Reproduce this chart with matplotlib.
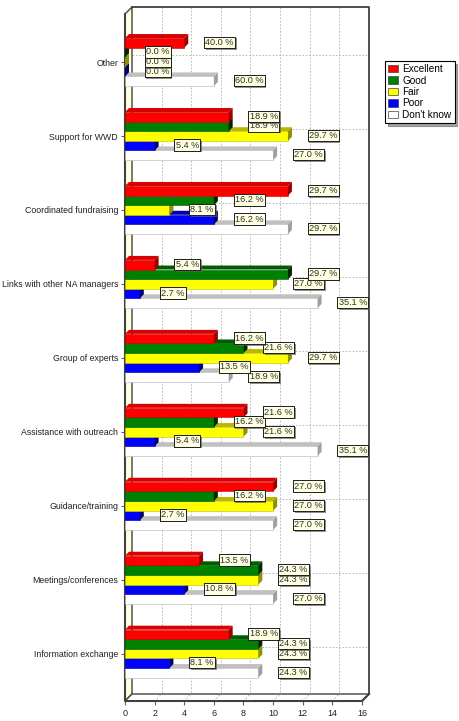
import numpy as np
import matplotlib
matplotlib.use('Agg')
import matplotlib.pyplot as plt
from matplotlib.patches import Polygon, Patch
import matplotlib.patheffects as pe

plt.rcParams['font.family'] = ['Liberation Sans', 'DejaVu Sans']

# data (top to bottom as in the chart)
categories = ['Other', 'Support for WWD', 'Coordinated fundraising',
              'Links with other NA managers', 'Group of experts',
              'Assistance with outreach', 'Guidance/training',
              'Meetings/conferences', 'Information exchange']
series = ['Excellent', 'Good', 'Fair', 'Poor', "Don't know"]

excellent = [4, 7, 11, 2, 6, 8, 10, 5, 7]
good = [0, 7, 6, 11, 8, 6, 6, 9, 9]
fair = [0, 11, 3, 10, 11, 8, 10, 9, 9]
poor = [0, 2, 6, 1, 5, 2, 1, 4, 3]
dont_know = [6, 10, 11, 13, 7, 13, 10, 10, 9]

pct_excellent = [40.0, 18.9, 29.7, 5.4, 16.2, 21.6, 27.0, 13.5, 18.9]
pct_good = [0.0, 18.9, 16.2, 29.7, 21.6, 16.2, 16.2, 24.3, 24.3]
pct_fair = [0.0, 29.7, 8.1, 27.0, 29.7, 21.6, 27.0, 24.3, 24.3]
pct_poor = [0.0, 5.4, 16.2, 2.7, 13.5, 5.4, 2.7, 10.8, 8.1]
pct_dont_know = [60.0, 27.0, 29.7, 35.1, 18.9, 35.1, 27.0, 27.0, 24.3]

xticks = [0, 2, 4, 6, 8, 10, 12, 14, 16]

values = [excellent, good, fair, poor, dont_know]
pcts = [pct_excellent, pct_good, pct_fair, pct_poor, pct_dont_know]

front_c = ['#FF0000', '#008000', '#FFFF00', '#0000FF', '#FFFFFF']
top_c = ['#D80000', '#005C00', '#B8B800', '#0000A8', '#C0C0C0']
side_c = ['#A00000', '#002800', '#909000', '#000070', '#A0A0A0']
edge_c = ['#C00000', '#006000', '#C0C000', '#0000C0', '#B0B0B0']

W, H = 460, 721
fig = plt.figure(figsize=(W / 100, H / 100), dpi=100)
ax = fig.add_axes([125 / W, 20 / H, 237 / W, 687 / H])
ymin, ymax = -0.65, 8.64
ax.set_xlim(0, 16)
ax.set_ylim(ymax, ymin)
for s in ax.spines.values():
    s.set_visible(False)

px_x = 237 / 16.
px_y = 687 / (ymax - ymin)
wdx, wdy = 7 / px_x, 7 / px_y     # back wall depth
bdx, bdy = 4 / px_x, 4 / px_y     # bar depth
bh = 9.6 / px_y

frame = '#404040'
# left wall
ax.add_patch(Polygon([(0, ymax), (0, ymin), (wdx, ymin - wdy), (wdx, ymax - wdy)],
                     closed=True, facecolor='#FFFFE0', edgecolor=frame, lw=1.0,
                     clip_on=False, zorder=1))
# floor
ax.add_patch(Polygon([(0, ymax), (16, ymax), (16 + wdx, ymax - wdy), (wdx, ymax - wdy)],
                     closed=True, facecolor='white', edgecolor=frame, lw=1.0,
                     clip_on=False, zorder=1))
# grid on the back wall
for t in xticks[1:-1]:
    ax.plot([t + wdx, t + wdx], [ymin - wdy, ymax - wdy], color='#B0B0B0',
            lw=0.6, ls=(0, (2, 2)), clip_on=False, zorder=0.5)
for t in xticks[1:]:
    ax.plot([t, t + wdx], [ymax, ymax - wdy], color='#B0B0B0', lw=0.6,
            ls=(0, (2, 2)), clip_on=False, zorder=1.5)
for i in range(len(categories)):
    ax.plot([wdx, 16 + wdx], [i - wdy, i - wdy], color='#B0B0B0', lw=0.6,
            ls=(0, (2, 2)), clip_on=False, zorder=0.5)
# outer frame
ax.plot([wdx, 16 + wdx, 16 + wdx], [ymin - wdy, ymin - wdy, ymax - wdy],
        color=frame, lw=1.3, clip_on=False, zorder=2)
ax.plot([0, 0, 16, 16 + wdx], [ymin, ymax, ymax, ymax - wdy],
        color=frame, lw=1.5, clip_on=False, zorder=2)

y = np.arange(len(categories))
for k in range(len(series) - 1, -1, -1):
    yk = y + (k - 2) * bh
    z = 3 + (4 - k) * 0.5
    ax.barh(yk, values[k], height=bh, color=front_c[k], edgecolor=edge_c[k],
            linewidth=0.4, zorder=z, label=series[k])
    for yy, v in zip(yk, values[k]):
        top = yy - bh / 2
        bot = yy + bh / 2
        ax.add_patch(Polygon([(0, top), (v, top), (v + bdx, top - bdy), (bdx, top - bdy)],
                             closed=True, facecolor=top_c[k], edgecolor='none',
                             zorder=z, clip_on=False))
        ax.add_patch(Polygon([(v, top), (v + bdx, top - bdy), (v + bdx, bot - bdy), (v, bot)],
                             closed=True, facecolor=side_c[k], edgecolor='none',
                             zorder=z, clip_on=False))
    for yy, v, p in zip(yk, values[k], pcts[k]):
        t = ax.annotate('%.1f %%' % p, xy=(v, yy), xytext=(21, 0.5),
                        textcoords='offset pixels', ha='left', va='center',
                        fontsize=6.6, color='#303030', zorder=20,
                        bbox=dict(boxstyle='square,pad=0.13', facecolor='#FFFFE1',
                                  edgecolor='#202020', lw=0.7))
        t.get_bbox_patch().set_path_effects(
            [pe.withSimplePatchShadow(offset=(1.2, -1.2), shadow_rgbFace='#606060', alpha=0.7),
             pe.Normal()])

ax.set_yticks(y)
ax.set_yticklabels(categories, fontsize=6.3, color='#202020')
ax.set_xticks(xticks)
ax.set_xticklabels([str(t) for t in xticks], fontsize=6.5, color='#202020')
ax.tick_params(axis='y', length=3, pad=2, color='#606060')
ax.tick_params(axis='x', length=3, pad=3, color='#606060')

handles = [Patch(facecolor=front_c[k], edgecolor='#404040', lw=0.5, label=series[k])
           for k in range(len(series))]
leg = fig.legend(handles=handles, loc='upper left', bbox_to_anchor=(385 / W, 1 - 61 / H),
                 bbox_transform=fig.transFigure, fontsize=7.2, frameon=True,
                 fancybox=False, shadow=True, edgecolor='black', handlelength=1.0,
                 handleheight=0.8, labelspacing=0.15, borderpad=0.3,
                 handletextpad=0.45, borderaxespad=0)
leg.get_frame().set_linewidth(0.8)

plt.savefig('out.png', dpi=100, facecolor='white')
plt.close()
